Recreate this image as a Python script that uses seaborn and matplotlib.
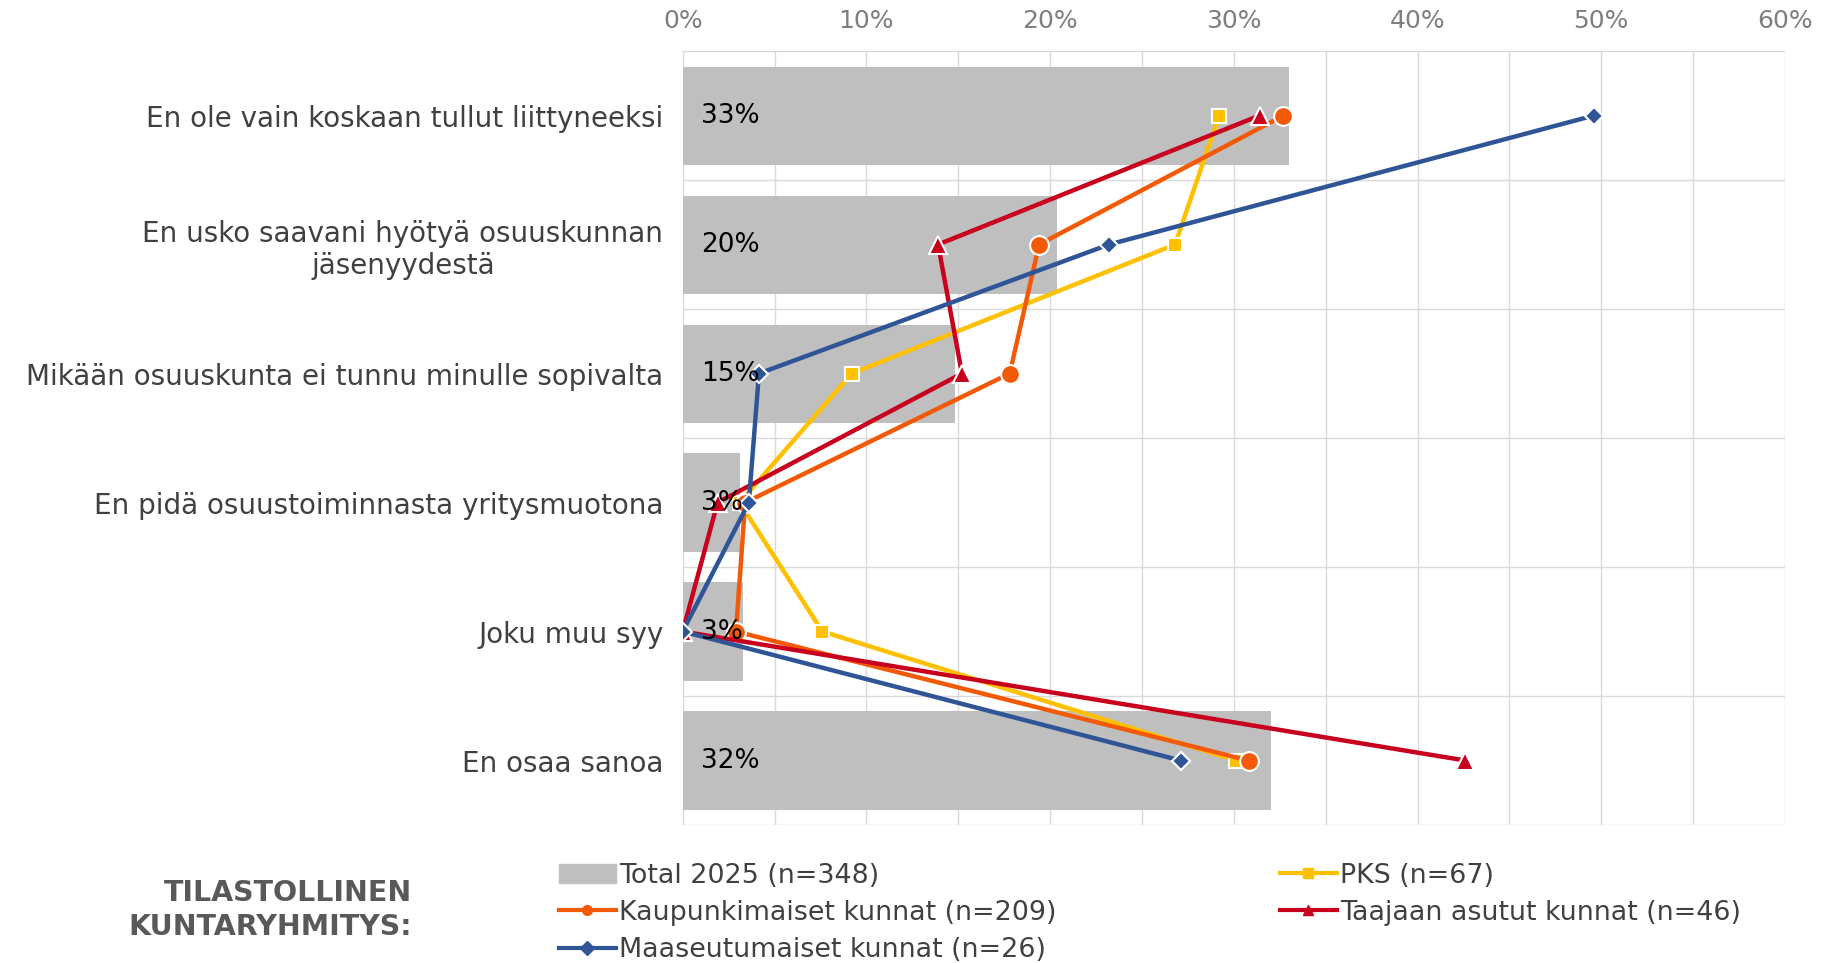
import numpy as np
import pandas as pd
import matplotlib
matplotlib.use("Agg")
import matplotlib.pyplot as plt
from matplotlib.lines import Line2D
from matplotlib.patches import Patch
from matplotlib.ticker import MultipleLocator, FuncFormatter
import seaborn as sns

categories = ['En ole vain koskaan tullut liittyneeksi',
              'En usko saavani hyötyä osuuskunnan\njäsenyydestä',
              'Mikään osuuskunta ei tunnu minulle sopivalta',
              'En pidä osuustoiminnasta yritysmuotona',
              'Joku muu syy',
              'En osaa sanoa']

total_2025 = [33.0, 20.4, 14.8, 3.1, 3.3, 32.0]
pks = [29.2, 26.8, 9.2, 3.1, 7.6, 30.1]
kaupunki = [32.7, 19.4, 17.8, 3.4, 2.9, 30.8]
taajaan = [31.4, 13.9, 15.2, 1.9, 0.0, 42.6]
maaseutu = [49.6, 23.2, 4.15, 3.6, 0.0, 27.1]

series_names = ['PKS (n=67)', 'Kaupunkimaiset kunnat (n=209)',
                'Taajaan asutut kunnat (n=46)', 'Maaseutumaiset kunnat (n=26)']
series_values = [pks, kaupunki, taajaan, maaseutu]
colors = ['#FFC000', '#F25A08', '#C8001E', '#2F5597']
markers = ['s', 'o', '^', 'D']
msizes = [10.5, 13.5, 13, 9]

text_col = '#404040'
plt.rcParams['font.family'] = ['DejaVu Sans']

fig = plt.figure(figsize=(18.22, 9.63), dpi=100)
ax = fig.add_axes([0.3747, 0.1433, 0.6050, 0.8037])

sns.barplot(x=total_2025, y=categories, orient='h', color='#BFBFBF',
            width=0.76, saturation=1, ax=ax, zorder=2)

pos = np.arange(len(categories))
for name, vals, c, m, ms in zip(series_names, series_values, colors, markers, msizes):
    df = pd.DataFrame({'value': vals, 'pos': pos})
    sns.lineplot(data=df, x='value', y='pos', sort=False, estimator=None,
                 color=c, marker=m, markersize=ms, linewidth=3.2,
                 markeredgecolor='white', markeredgewidth=1.5, ax=ax, zorder=3)

# arvot palkkien alkuun
for i, v in enumerate(total_2025):
    ax.text(1.0, i, f'{v:.0f}%', va='center', ha='left', fontsize=19,
            color='black', zorder=5)

ax.set_xlim(0, 60)
ax.set_ylim(len(categories) - 0.5, -0.5)
ax.xaxis.set_major_locator(MultipleLocator(10))
ax.xaxis.set_minor_locator(MultipleLocator(5))
ax.xaxis.set_major_formatter(FuncFormatter(lambda v, p: f'{v:.0f}%'))
ax.xaxis.tick_top()
ax.set_yticks(pos)
ax.set_yticks(np.arange(-0.5, len(categories)), minor=True)
ax.set_yticklabels(categories, fontsize=20, color=text_col, multialignment='center')
ax.tick_params(axis='x', which='both', length=0, pad=13, labelsize=18, labelcolor='#7F7F7F')
ax.tick_params(axis='y', which='both', length=0, pad=14)
ax.grid(True, axis='x', which='both', color='#D9D9D9', linewidth=1, zorder=0)
ax.grid(True, axis='y', which='minor', color='#D9D9D9', linewidth=1, zorder=0)
ax.grid(False, axis='y', which='major')
ax.set_axisbelow(True)
for s in ax.spines.values():
    s.set_visible(False)
ax.set_xlabel('')
ax.set_ylabel('')

handles = [Patch(color='#BFBFBF')]
labels = ['Total 2025 (n=348)']
for name, c, m in zip(series_names, colors, markers):
    handles.append(Line2D([], [], color=c, marker=m, markersize=7, linewidth=3,
                          markeredgecolor=c))
    labels.append(name)
order = [0, 2, 4, 1, 3]
fig.legend([handles[i] for i in order], [labels[i] for i in order],
           loc='upper left', bbox_to_anchor=(0.301, 0.1155), ncol=2, frameon=False,
           fontsize=19.4, labelcolor=text_col, handlelength=2.1, handletextpad=0.12,
           columnspacing=8.3, labelspacing=0.42, borderaxespad=0)

fig.text(0.226, 0.055, 'TILASTOLLINEN\nKUNTARYHMITYS:', ha='right', va='center',
         fontsize=20.5, fontweight='bold', color='#595959', linespacing=1.25)

fig.savefig('out.png', dpi=100)
